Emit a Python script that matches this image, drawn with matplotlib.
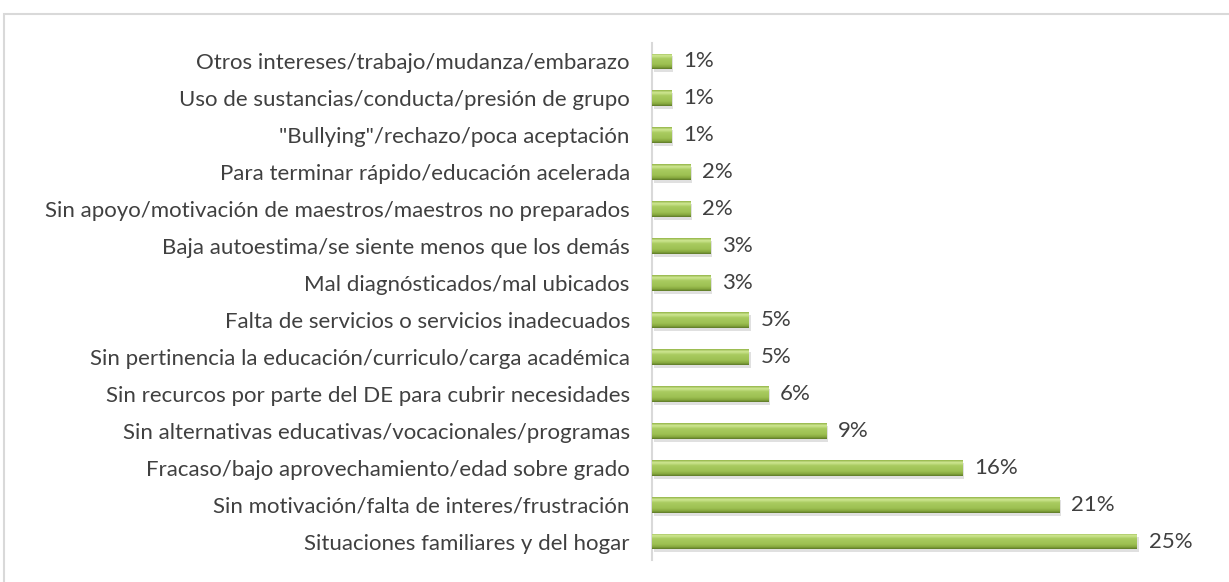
import numpy as np
import matplotlib
matplotlib.use("Agg")
import matplotlib.pyplot as plt
from matplotlib.colors import LinearSegmentedColormap
from matplotlib.patches import Rectangle

# data, top row first
categories = [
    "Otros intereses/trabajo/mudanza/embarazo",
    "Uso de sustancias/conducta/presión de grupo",
    "\"Bullying\"/rechazo/poca aceptación",
    "Para terminar rápido/educación acelerada",
    "Sin apoyo/motivación de maestros/maestros no preparados",
    "Baja autoestima/se siente menos que los demás",
    "Mal diagnósticados/mal ubicados",
    "Falta de servicios o servicios inadecuados",
    "Sin pertinencia la educación/curriculo/carga académica",
    "Sin recurcos por parte del DE para cubrir necesidades",
    "Sin alternativas educativas/vocacionales/programas",
    "Fracaso/bajo aprovechamiento/edad sobre grado",
    "Sin motivación/falta de interes/frustración",
    "Situaciones familiares y del hogar",
]
values = [1, 1, 1, 2, 2, 3, 3, 5, 5, 6, 9, 16, 21, 25]
labels = ["1%", "1%", "1%", "2%", "2%", "3%", "3%", "5%", "5%", "6%", "9%", "16%", "21%", "25%"]

plt.rcParams['font.family'] = ['Lato', 'DejaVu Sans']
text_color = "#404040"
fs = 16

fig = plt.figure(figsize=(12.29, 5.82), dpi=100)
ax = fig.add_axes([652 / 1229, 1 - 560 / 582, 548 / 1229, 517 / 582])

# light border around the chart area
fig.patches.append(Rectangle((4 / 1229, -0.2), 1.2, 1.2 - 13.5 / 582,
                             transform=fig.transFigure, fill=False,
                             edgecolor="#d9d9d9", linewidth=1.5))

# top -> bottom of each bar
green = LinearSegmentedColormap.from_list("bar", [
    (0.0, "#93b548"), (0.15, "#cfe793"), (0.35, "#a9cb60"),
    (0.7, "#9dc052"), (0.87, "#86a83e"), (1.0, "#5e7a28")])

y = np.arange(len(categories))
h = 0.43
# soft shadow under the bars
ax.barh(y + 0.08, values, height=h, left=0.08, color="#000000", alpha=0.12,
        linewidth=0, zorder=1)
bars = ax.barh(y, values, height=h, color="#9bbb59", linewidth=0, zorder=2)
grad = np.linspace(0, 1, 64).reshape(-1, 1)
for b in bars:
    x0, y0 = b.get_x(), b.get_y()
    w, hh = b.get_width(), b.get_height()
    # y axis is inverted, so y0 is the visual top of the bar
    im = ax.imshow(grad, cmap=green, aspect="auto", origin="upper",
                   extent=(x0, x0 + w, y0 + hh, y0), zorder=3)
    im.set_clip_path(b)

for yi, v, lab in zip(y, values, labels):
    ax.text(v + 0.6, yi, lab, va="center", ha="left", fontsize=fs,
            color=text_color)

ax.set_xlim(0, 548 / 19.4)
ax.set_ylim(len(categories) - 0.5, -0.5)
ax.set_yticks(y)
ax.set_yticklabels(categories, fontsize=fs, color=text_color)
ax.tick_params(axis="y", length=0, pad=16)
ax.set_xticks([])
for s in ["top", "right", "bottom"]:
    ax.spines[s].set_visible(False)
ax.spines["left"].set_color("#d9d9d9")
ax.spines["left"].set_linewidth(1.5)

fig.savefig("out.png", dpi=100)
